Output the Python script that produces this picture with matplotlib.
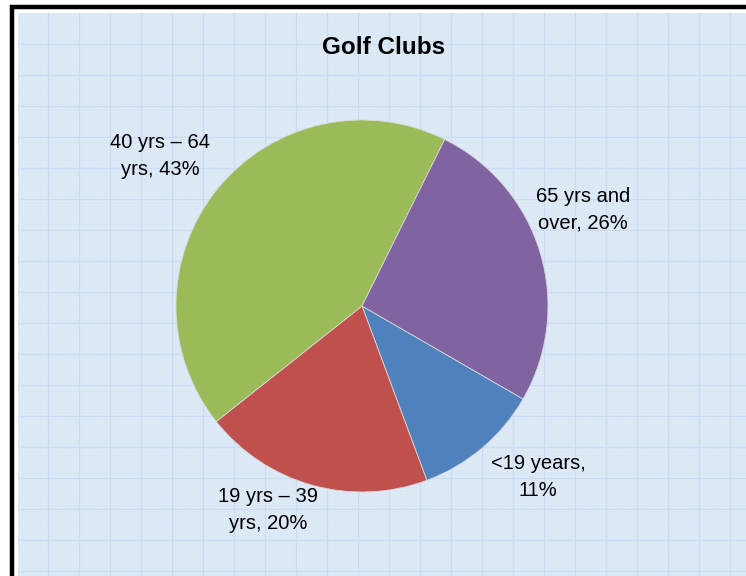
import matplotlib
matplotlib.use('Agg')
import matplotlib.pyplot as plt
from matplotlib.patches import Rectangle

# данные
groups = ['<19 years', '19 yrs – 39 yrs', '40 yrs – 64 yrs', '65 yrs and over']
shares = [11, 20, 43, 26]
labels = ['<19 years,\n11%', '19 yrs – 39\nyrs, 20%', '40 yrs – 64\nyrs, 43%', '65 yrs and\nover, 26%']
colors = ['#4f81bd', '#c0504d', '#9bbb59', '#8064a2']

W, H = 746, 576
fig = plt.figure(figsize=(W / 100, H / 100), dpi=100)
plt.rcParams['font.family'] = ['Liberation Sans', 'DejaVu Sans']


def fx(px):
    return px / W


def fy(py):
    return 1 - py / H


# фон в клетку
bg = fig.add_axes([fx(18), 0, 1 - fx(18), fy(13)])
bg.set_xlim(0, W - 18)
bg.set_ylim(0, H - 13)
bg.axis('off')
bg.add_patch(Rectangle((0, 0), W, H, color='#dae7f6', zorder=0))
for x in range(0, W, 3):
    bg.axvline(x, color='white', lw=0.4, alpha=0.2, zorder=1)
for y in range(0, H, 3):
    bg.axhline(y, color='white', lw=0.4, alpha=0.2, zorder=1)
for x in range(30, W, 31):
    bg.axvline(x, color='#cbdcf2', lw=0.9, zorder=2)
for y in range(H - 13 - 31, 0, -31):
    bg.axhline(y, color='#cbdcf2', lw=0.9, zorder=2)

# рамка
fig.patches.append(Rectangle((fx(12), -0.1), 1.2, fy(7) + 0.1, transform=fig.transFigure,
                             fill=False, edgecolor='black', lw=3.2))

# круговая диаграмма
cx, cy, r = 362, 306, 186
ax = fig.add_axes([fx(cx - r), fy(cy + r), 2 * r / W, 2 * r / H])
ax.pie(shares, colors=colors, startangle=-30, counterclock=False,
       wedgeprops=dict(edgecolor='#d8d8d8', linewidth=0.6))
ax.set_xlim(-1, 1)
ax.set_ylim(-1, 1)

fig.text(fx(384), fy(47), 'Golf Clubs', ha='center', va='center', fontsize=17.5, fontweight='bold')

label_pos = [(538, 477), (268, 510), (160, 156), (583, 210)]
for (px, py), txt in zip(label_pos, labels):
    fig.text(fx(px), fy(py), txt, ha='center', va='center', fontsize=14.5, linespacing=1.5)

fig.savefig('out.png', dpi=100)
